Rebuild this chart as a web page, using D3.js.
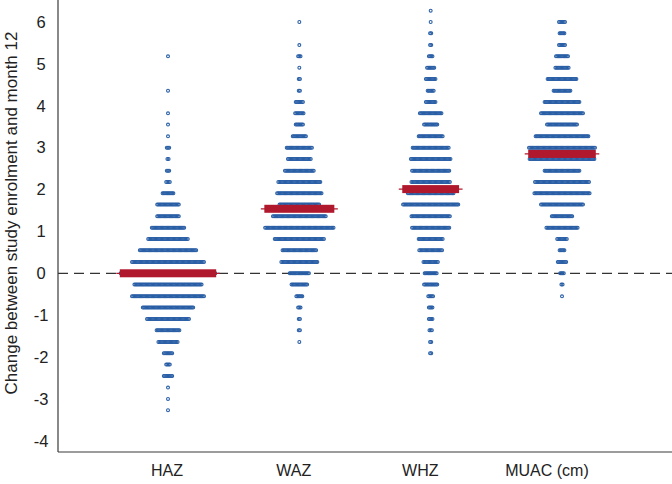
<!DOCTYPE html>
<html>
<head>
<meta charset="utf-8">
<script src="https://cdn.jsdelivr.net/npm/d3@7"></script>
<style>
  html, body { margin: 0; padding: 0; background: #fff; }
  svg { display: block; font-family: "Liberation Sans", Arial, sans-serif; }
</style>
</head>
<body>
<svg id="chart" width="672" height="484"></svg>
<script>
// ---- data ----
const categories = ["HAZ", "WAZ", "WHZ", "MUAC (cm)"];
const yTicks = [-4, -3, -2, -1, 0, 1, 2, 3, 4, 5, 6];
const yTitle = "Change between study enrolment and month 12";

const hazValues = [5.18, 4.36, 3.82, 3.55, 3.27, 3.00, 2.73, 2.45, 2.18, 1.91, 1.64, 1.36, 1.09, 0.82, 0.55, 0.27, 0.00, -0.27, -0.55, -0.82, -1.09, -1.36, -1.64, -1.91, -2.18, -2.45, -2.73, -3.00, -3.27];
const hazCounts = [1, 1, 1, 1, 1, 3, 2, 3, 4, 10, 19, 19, 28, 34, 48, 61, 80, 57, 61, 43, 36, 20, 17, 8, 4, 8, 1, 1, 1];

const wazValues = [6.00, 5.45, 5.18, 4.91, 4.64, 4.36, 4.09, 3.82, 3.55, 3.27, 3.00, 2.73, 2.45, 2.18, 1.91, 1.64, 1.36, 1.09, 0.82, 0.55, 0.27, 0.00, -0.27, -0.55, -0.82, -1.09, -1.36, -1.64];
const wazCounts = [1, 1, 3, 1, 2, 2, 7, 8, 7, 12, 22, 20, 25, 36, 38, 34, 45, 58, 42, 29, 31, 17, 14, 6, 3, 2, 2, 1];

const whzValues = [6.27, 6.00, 5.73, 5.45, 5.18, 4.91, 4.64, 4.36, 4.09, 3.82, 3.55, 3.27, 3.00, 2.73, 2.45, 2.18, 1.91, 1.64, 1.36, 1.09, 0.82, 0.55, 0.27, 0.00, -0.27, -0.55, -0.82, -1.09, -1.36, -1.64, -1.91];
const whzCounts = [1, 1, 2, 2, 4, 7, 9, 6, 9, 19, 12, 21, 31, 34, 32, 33, 39, 47, 33, 32, 21, 20, 13, 11, 12, 5, 4, 4, 3, 2, 2];

const muacValues = [6.00, 5.73, 5.45, 5.18, 4.91, 4.64, 4.36, 4.09, 3.82, 3.55, 3.27, 3.00, 2.73, 2.45, 2.18, 1.91, 1.64, 1.36, 1.09, 0.82, 0.55, 0.27, 0.00, -0.27, -0.55];
const muacCounts = [6, 5, 6, 11, 12, 25, 15, 30, 36, 26, 45, 56, 55, 30, 46, 47, 36, 18, 27, 9, 5, 8, 4, 2, 1];

const medians = [0.00, 1.54, 2.01, 2.85];

// ---- build ----
const groups = [
  { name: categories[0], values: hazValues, counts: hazCounts, median: medians[0] },
  { name: categories[1], values: wazValues, counts: wazCounts, median: medians[1] },
  { name: categories[2], values: whzValues, counts: whzCounts, median: medians[2] },
  { name: categories[3], values: muacValues, counts: muacCounts, median: medians[3] }
];

const svg = d3.select("#chart");
const axisX = 58, axisBottom = 452, W = 672;

const y = d3.scaleLinear().domain([-4, 6]).range([440.8, 22]);
const xDots = d3.scalePoint().domain(categories).range([168, 562]);
const xLab = d3.scalePoint().domain(categories).range([166.5, 546.5]);
const step = 1.2; // px between neighbouring points in a row

const blue = "#2a5fa6", red = "#b0182d", ink = "#222";

// zero reference line
svg.append("line")
  .attr("x1", axisX).attr("x2", W)
  .attr("y1", y(0)).attr("y2", y(0))
  .attr("stroke", "#333").attr("stroke-width", 1.2)
  .attr("stroke-dasharray", "10,6");

// points
groups.forEach(g => {
  const pts = [];
  g.values.forEach((v, i) => {
    const n = g.counts[i];
    for (let j = 0; j < n; j++) pts.push({ v, off: (j - (n - 1) / 2) * step });
  });
  svg.append("g").selectAll("circle").data(pts).join("circle")
    .attr("cx", d => xDots(g.name) + d.off)
    .attr("cy", d => y(d.v))
    .attr("r", 1.45)
    .attr("fill", "none")
    .attr("stroke", blue)
    .attr("stroke-width", 1.1);
});

// median bars
groups.forEach(g => {
  const maxN = d3.max(g.counts);
  const half = (maxN - 1) * step / 2 + 0.8;
  const cx = xDots(g.name), cy = y(g.median);
  svg.append("line")
    .attr("x1", cx - half - 3.5).attr("x2", cx + half + 3.5)
    .attr("y1", cy).attr("y2", cy)
    .attr("stroke", red).attr("stroke-width", 1.2);
  svg.append("rect")
    .attr("x", cx - half).attr("width", 2 * half)
    .attr("y", cy - 4).attr("height", 8)
    .attr("fill", red);
});

// axes lines
svg.append("line")
  .attr("x1", axisX).attr("x2", axisX).attr("y1", 0).attr("y2", axisBottom)
  .attr("stroke", "#3a3a3a").attr("stroke-width", 1.2);
svg.append("line")
  .attr("x1", axisX).attr("x2", W).attr("y1", axisBottom).attr("y2", axisBottom)
  .attr("stroke", "#3a3a3a").attr("stroke-width", 1.2);

// y axis labels
const yAxis = svg.append("g").attr("transform", `translate(${axisX},0)`)
  .call(d3.axisLeft(y).tickValues(yTicks).tickSize(0).tickFormat(d => String(d)));
yAxis.select(".domain").remove();
yAxis.selectAll("text")
  .attr("x", -17).attr("text-anchor", "middle")
  .attr("font-size", 16.5).attr("fill", ink)
  .style("font-family", "'Liberation Sans', Arial, sans-serif");

// x axis labels
const xAxis = svg.append("g").attr("transform", `translate(0,${axisBottom})`)
  .call(d3.axisBottom(xLab).tickSize(0));
xAxis.select(".domain").remove();
xAxis.selectAll("text")
  .attr("y", 13).attr("font-size", 16).attr("fill", ink)
  .style("font-family", "'Liberation Sans', Arial, sans-serif");

// y title
svg.append("text")
  .attr("transform", `translate(13,213) rotate(-90)`)
  .attr("text-anchor", "middle")
  .attr("dominant-baseline", "middle")
  .attr("font-size", 17).attr("fill", ink)
  .text(yTitle);
</script>
</body>
</html>
